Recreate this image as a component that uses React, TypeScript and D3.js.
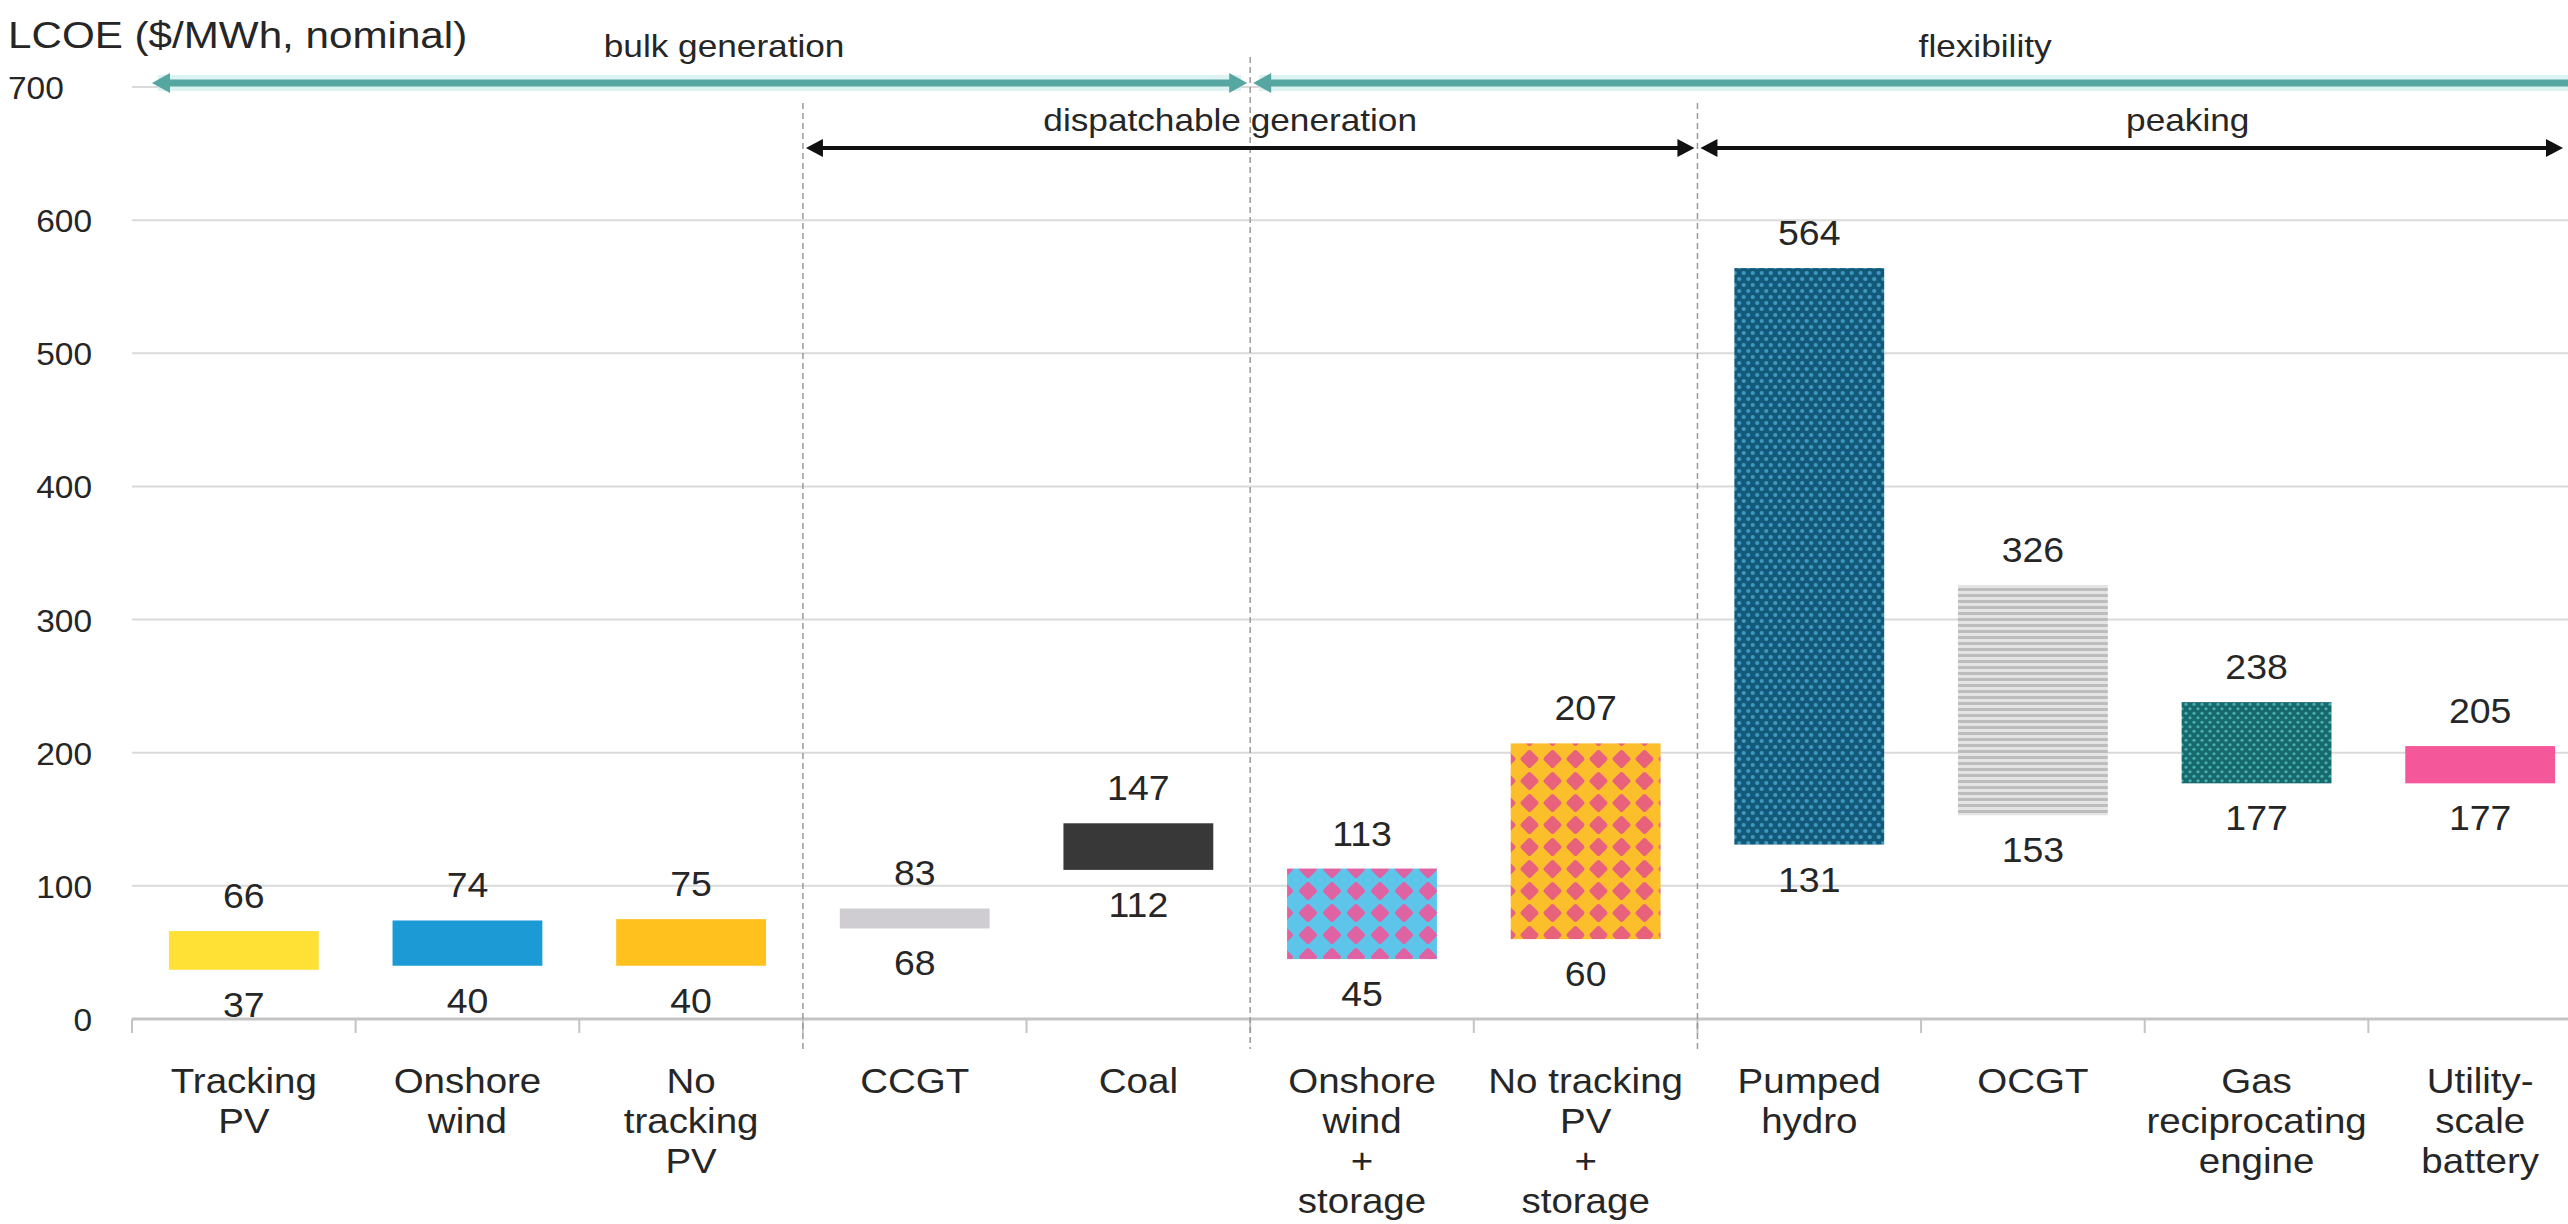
import * as React from "react";
import * as d3 from "d3";

// chart data
const categories = [
  "Tracking PV",
  "Onshore wind",
  "No tracking PV",
  "CCGT",
  "Coal",
  "Onshore wind + storage",
  "No tracking PV + storage",
  "Pumped hydro",
  "OCGT",
  "Gas reciprocating engine",
  "Utility-scale battery",
];
const categoryLines = [
  ["Tracking", "PV"],
  ["Onshore", "wind"],
  ["No", "tracking", "PV"],
  ["CCGT"],
  ["Coal"],
  ["Onshore", "wind", "+", "storage"],
  ["No tracking", "PV", "+", "storage"],
  ["Pumped", "hydro"],
  ["OCGT"],
  ["Gas", "reciprocating", "engine"],
  ["Utility-", "scale", "battery"],
];
const lowValues = [37, 40, 40, 68, 112, 45, 60, 131, 153, 177, 177];
const highValues = [66, 74, 75, 83, 147, 113, 207, 564, 326, 238, 205];
const barFills = [
  "#ffe135",
  "#1c9ad6",
  "#ffc11e",
  "#cfcdd1",
  "#383838",
  "url(#windStorage)",
  "url(#pvStorage)",
  "url(#pumpedHydro)",
  "url(#ocgt)",
  "url(#gasRecip)",
  "#f4589b",
];
const yTicks = [0, 100, 200, 300, 400, 500, 600, 700];

// groupings shown by the arrows at the top (band index from / to)
const spanNames = ["bulk generation", "flexibility", "dispatchable generation", "peaking"];
const spanFrom = [0, 5, 3, 7];
const spanTo = [5, 11, 7, 11];
const spanRow = [0, 0, 1, 1];

const W = 2568;
const H = 1224;
const FONT = "Liberation Sans, Arial, sans-serif";

const LcoeChart = () => {
  const svgRef = React.useRef<SVGSVGElement>(null);

  React.useEffect(() => {
    document.body.style.margin = "0";
    const svg = d3.select(svgRef.current);
    svg.selectAll("*").remove();

    const x = d3.scaleBand().domain(categories).range([132, 2592]).padding(0);
    const y = d3.scaleLinear().domain([0, 700]).range([1019, 87]);
    const barW = x.bandwidth() * 0.67;
    const edge = (i: number) => (i < categories.length ? x(categories[i]) : x.range()[1]);

    // source text is a little stretched sideways, so scale x a bit
    const addText = (sel, px, py, str, size, sx = 1.1, anchor = "middle") =>
      sel
        .append("text")
        .attr("transform", `translate(${px},${py}) scale(${sx},1)`)
        .attr("text-anchor", anchor)
        .attr("font-size", size)
        .attr("font-family", FONT)
        .attr("fill", "#262626")
        .text(str);

    // patterns
    const defs = svg.append("defs");
    const diamonds = (id, w, h, bg, fg, r) => {
      const p = defs
        .append("pattern")
        .attr("id", id)
        .attr("patternUnits", "userSpaceOnUse")
        .attr("width", w)
        .attr("height", h);
      p.append("rect").attr("width", w).attr("height", h).attr("fill", bg);
      p.append("path")
        .attr("d", `M${w / 2},${h / 2 - r}L${w / 2 + r},${h / 2}L${w / 2},${h / 2 + r}L${w / 2 - r},${h / 2}Z`)
        .attr("fill", fg)
        .attr("stroke", fg)
        .attr("stroke-linejoin", "round")
        .attr("stroke-width", 4);
    };
    diamonds("windStorage", 24, 22, "#5ec5ea", "#df62a2", 7);
    diamonds("pvStorage", 23, 22, "#fbbf2c", "#e9627c", 7);

    const dots = (id, w, h, bg, fg, r) => {
      const p = defs
        .append("pattern")
        .attr("id", id)
        .attr("patternUnits", "userSpaceOnUse")
        .attr("width", w)
        .attr("height", h);
      p.append("rect").attr("width", w).attr("height", h).attr("fill", bg);
      p.append("circle").attr("cx", w / 4).attr("cy", h / 4).attr("r", r).attr("fill", fg);
      p.append("circle").attr("cx", (3 * w) / 4).attr("cy", (3 * h) / 4).attr("r", r).attr("fill", fg);
    };
    dots("pumpedHydro", 9, 12, "#135a7a", "#3f98c0", 2.1);
    dots("gasRecip", 8, 9, "#17696d", "#45b0ae", 1.6);

    const stripes = defs
      .append("pattern")
      .attr("id", "ocgt")
      .attr("patternUnits", "userSpaceOnUse")
      .attr("width", 10)
      .attr("height", 6);
    stripes.append("rect").attr("width", 10).attr("height", 6).attr("fill", "#e4e4e4");
    stripes.append("rect").attr("width", 10).attr("height", 3).attr("fill", "#bdbdbd");

    // gridlines
    svg
      .append("g")
      .selectAll("line")
      .data(yTicks.filter((d) => d > 0))
      .enter()
      .append("line")
      .attr("x1", x.range()[0])
      .attr("x2", W)
      .attr("y1", (d) => y(d))
      .attr("y2", (d) => y(d))
      .attr("stroke", "#dadada")
      .attr("stroke-width", 2);

    // y labels
    yTicks.forEach((t, i) => {
      if (i === yTicks.length - 1) addText(svg, 8, y(t) + 12, String(t), 31, 1.08, "start");
      else addText(svg, 92, y(t) + 12, String(t), 31, 1.08, "end");
    });

    // baseline and ticks
    svg
      .append("line")
      .attr("x1", x.range()[0])
      .attr("x2", W)
      .attr("y1", y(0))
      .attr("y2", y(0))
      .attr("stroke", "#c4c4c4")
      .attr("stroke-width", 3);
    svg
      .append("g")
      .selectAll("line")
      .data(d3.range(categories.length + 1))
      .enter()
      .append("line")
      .attr("x1", (i) => edge(i))
      .attr("x2", (i) => edge(i))
      .attr("y1", y(0))
      .attr("y2", y(0) + 14)
      .attr("stroke", "#c4c4c4")
      .attr("stroke-width", 2);

    // dashed separators
    const rowY = [y(700) - 4, y(700) + 61];
    [3, 5, 7].forEach((b) => {
      svg
        .append("line")
        .attr("x1", edge(b))
        .attr("x2", edge(b))
        .attr("y1", b === 5 ? rowY[0] - 26 : rowY[1] - 45)
        .attr("y2", y(0) + 30)
        .attr("stroke", "#9a9a9a")
        .attr("stroke-width", 1.5)
        .attr("stroke-dasharray", "6,4");
    });

    // bars
    const bars = svg.append("g");
    categories.forEach((c, i) => {
      const cx = x(c) + x.bandwidth() / 2;
      bars
        .append("rect")
        .attr("x", cx - barW / 2)
        .attr("y", y(highValues[i]))
        .attr("width", barW)
        .attr("height", y(lowValues[i]) - y(highValues[i]))
        .attr("fill", barFills[i]);
      addText(bars, cx, y(highValues[i]) - 23, String(highValues[i]), 35, 1.07);
      addText(bars, cx, y(lowValues[i]) + 47, String(lowValues[i]), 35, 1.07);
      categoryLines[i].forEach((ln, j) => {
        addText(bars, cx, 1093 + j * 40, ln, 35, 1.1);
      });
    });

    // span arrows
    const labelShift = [33, 64, -20, 43];
    spanNames.forEach((name, i) => {
      const teal = spanRow[i] === 0;
      const ay = rowY[spanRow[i]];
      const color = teal ? "#56a6a1" : "#111";
      const openRight = teal && spanTo[i] === categories.length;
      const x1 = edge(spanFrom[i]) + (spanFrom[i] === 0 ? 20 : 3);
      const x2 = Math.min(edge(spanTo[i]) - 3, W - 5);
      const len = teal ? 18 : 17;
      const half = teal ? 10 : 9;
      const g = svg.append("g");
      if (teal) {
        g.append("line")
          .attr("x1", x1 + 6)
          .attr("x2", openRight ? W : x2 - 6)
          .attr("y1", ay)
          .attr("y2", ay)
          .attr("stroke", "#dcf3f2")
          .attr("stroke-width", 16);
      }
      g.append("line")
        .attr("x1", x1 + len - 2)
        .attr("x2", openRight ? W : x2 - len + 2)
        .attr("y1", ay)
        .attr("y2", ay)
        .attr("stroke", color)
        .attr("stroke-width", teal ? 7 : 4);
      g.append("path")
        .attr("d", `M${x1},${ay}L${x1 + len},${ay - half}L${x1 + len},${ay + half}Z`)
        .attr("fill", color);
      if (!openRight) {
        g.append("path")
          .attr("d", `M${x2},${ay}L${x2 - len},${ay - half}L${x2 - len},${ay + half}Z`)
          .attr("fill", color);
      }
      const mid = (edge(spanFrom[i]) + edge(spanTo[i])) / 2 + labelShift[i];
      addText(svg, mid, teal ? 57 : 131, name, 32, 1.1);
    });

    addText(svg, 8, 48, "LCOE ($/MWh, nominal)", 37, 1.14, "start");
  }, []);

  return <svg ref={svgRef} width={W} height={H} style={{ display: "block", background: "#fff" }} />;
};

export default function App() {
  return <LcoeChart />;
}
